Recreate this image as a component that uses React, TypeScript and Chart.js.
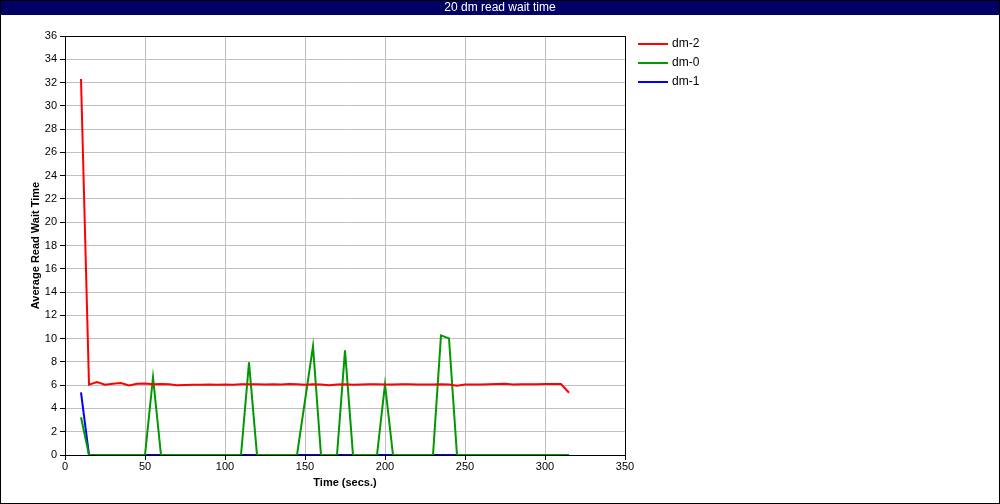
import React, { useEffect, useRef } from "react";
import { Chart, registerables } from "chart.js";

Chart.register(...registerables);

const chartTitle = "20 dm read wait time";
const xAxisTitle = "Time (secs.)";
const yAxisTitle = "Average Read Wait Time";

const times = [
  10, 15, 20, 25, 30, 35, 40, 45, 50, 55, 60, 65, 70, 75, 80, 85, 90, 95, 100, 105,
  110, 115, 120, 125, 130, 135, 140, 145, 150, 155, 160, 165, 170, 175, 180, 185, 190, 195, 200, 205,
  210, 215, 220, 225, 230, 235, 240, 245, 250, 255, 260, 265, 270, 275, 280, 285, 290, 295, 300, 305,
  310, 315,
];

const dm2 = [
  32.3, 6.05, 6.27, 6.04, 6.13, 6.18, 5.98, 6.12, 6.14, 6.08, 6.1, 6.07, 5.99, 6.02, 6.04, 6.03, 6.05, 6.04, 6.05, 6.04,
  6.07, 6.08, 6.08, 6.06, 6.07, 6.06, 6.1, 6.07, 6.03, 6.07, 6.05, 5.99, 6.05, 6.07, 6.04, 6.06, 6.07, 6.07, 6.06, 6.06,
  6.07, 6.08, 6.06, 6.05, 6.06, 6.07, 6.06, 5.95, 6.05, 6.06, 6.05, 6.08, 6.1, 6.12, 6.06, 6.07, 6.07, 6.08, 6.1, 6.1,
  6.1, 5.35,
];

const dm0 = [
  3.24, 0, 0, 0, 0, 0, 0, 0, 0, 6.67, 0, 0, 0, 0, 0, 0, 0, 0, 0, 0,
  0, 7.96, 0, 0, 0, 0, 0, 0, 4.68, 9.36, 0, 0, 0, 8.99, 0, 0, 0, 0, 6.07, 0,
  0, 0, 0, 0, 0, 10.28, 10.02, 0, 0, 0, 0, 0, 0, 0, 0, 0, 0, 0, 0, 0,
  0, 0,
];

const dm1 = [
  5.39, 0, 0, 0, 0, 0, 0, 0, 0, 0, 0, 0, 0, 0, 0, 0, 0, 0, 0, 0,
  0, 0, 0, 0, 0, 0, 0, 0, 0, 0, 0, 0, 0, 0, 0, 0, 0, 0, 0, 0,
  0, 0, 0, 0, 0, 0, 0, 0, 0, 0, 0, 0, 0, 0, 0, 0, 0, 0, 0, 0,
  0, 0,
];

const seriesNames = ["dm-2", "dm-0", "dm-1"];
const seriesValues = [dm2, dm0, dm1];
const seriesColors = ["#ff0000", "#009900", "#0000ff"];

const FONT = "'Liberation Sans', Arial, sans-serif";

const framePlugin = {
  id: "frame",
  beforeDraw(chart: any) {
    const ctx = chart.ctx;
    ctx.save();
    ctx.fillStyle = "#ffffff";
    ctx.fillRect(0, 0, chart.width, chart.height);
    ctx.fillStyle = "#000066";
    ctx.fillRect(0, 0, chart.width, 15);
    ctx.fillStyle = "#ffffff";
    ctx.font = "12px " + FONT;
    ctx.textAlign = "center";
    ctx.textBaseline = "middle";
    ctx.fillText(chartTitle, chart.width / 2, 8);
    ctx.restore();
  },
  afterDraw(chart: any) {
    const ctx = chart.ctx;
    const a = chart.chartArea;
    ctx.save();
    ctx.strokeStyle = "#000000";
    ctx.lineWidth = 1;
    ctx.strokeRect(Math.round(a.left) + 0.5, Math.round(a.top) + 0.5, Math.round(a.right - a.left), Math.round(a.bottom - a.top));
    ctx.strokeRect(0.5, 0.5, chart.width - 1, chart.height - 1);
    // legend
    const ds = chart.data.datasets;
    const rows = [44, 63, 82];
    ctx.font = "12px " + FONT;
    ctx.textAlign = "left";
    ctx.textBaseline = "middle";
    ds.forEach((d: any, i: number) => {
      ctx.strokeStyle = d.borderColor;
      ctx.lineWidth = 2;
      ctx.beginPath();
      ctx.moveTo(638, rows[i]);
      ctx.lineTo(668, rows[i]);
      ctx.stroke();
      ctx.fillStyle = "#000000";
      ctx.fillText(d.label, 672, rows[i]);
    });
    ctx.restore();
  },
};

export default function App() {
  const ref = useRef<HTMLCanvasElement | null>(null);

  useEffect(() => {
    if (!ref.current) return;
    const chart = new Chart(ref.current, {
      type: "line",
      data: {
        datasets: seriesNames.map((name, i) => ({
          label: name,
          data: times.map((t, j) => ({ x: t, y: seriesValues[i][j] })),
          borderColor: seriesColors[i],
          backgroundColor: seriesColors[i],
          borderWidth: 2,
          pointRadius: 0,
          tension: 0,
          fill: false,
        })),
      },
      options: {
        animation: false,
        responsive: false,
        devicePixelRatio: 1,
        layout: { padding: { top: 36, right: 375, bottom: 0, left: 0 } },
        font: { family: FONT },
        plugins: {
          legend: { display: false },
          title: { display: false },
          tooltip: { enabled: false },
        },
        scales: {
          x: {
            type: "linear",
            min: 0,
            max: 350,
            afterFit: (s: any) => {
              s.height = 49;
            },
            ticks: { stepSize: 50, color: "#000", padding: 0, font: { size: 11, family: FONT }, maxRotation: 0 },
            grid: { color: "#c0c0c0", tickColor: "#000", tickLength: 5 },
            border: { color: "#000" },
            title: {
              display: true,
              text: xAxisTitle,
              color: "#000",
              font: { size: 11, weight: "bold", family: FONT },
              padding: { top: 0, bottom: 14 },
            },
          },
          y: {
            type: "linear",
            min: 0,
            max: 36,
            afterFit: (s: any) => {
              s.width = 65;
            },
            ticks: { stepSize: 2, color: "#000", padding: 3, font: { size: 11, family: FONT } },
            grid: { color: "#c0c0c0", tickColor: "#000", tickLength: 5 },
            border: { color: "#000" },
            title: {
              display: true,
              text: yAxisTitle,
              color: "#000",
              font: { size: 11, weight: "bold", family: FONT },
              padding: { top: 29, bottom: 0 },
            },
          },
        },
      },
      plugins: [framePlugin],
    } as any);
    return () => chart.destroy();
  }, []);

  return (
    <div style={{ position: "absolute", left: 0, top: 0, width: 1000, height: 504 }}>
      <canvas ref={ref} width={1000} height={504} style={{ display: "block", width: 1000, height: 504 }} />
    </div>
  );
}
